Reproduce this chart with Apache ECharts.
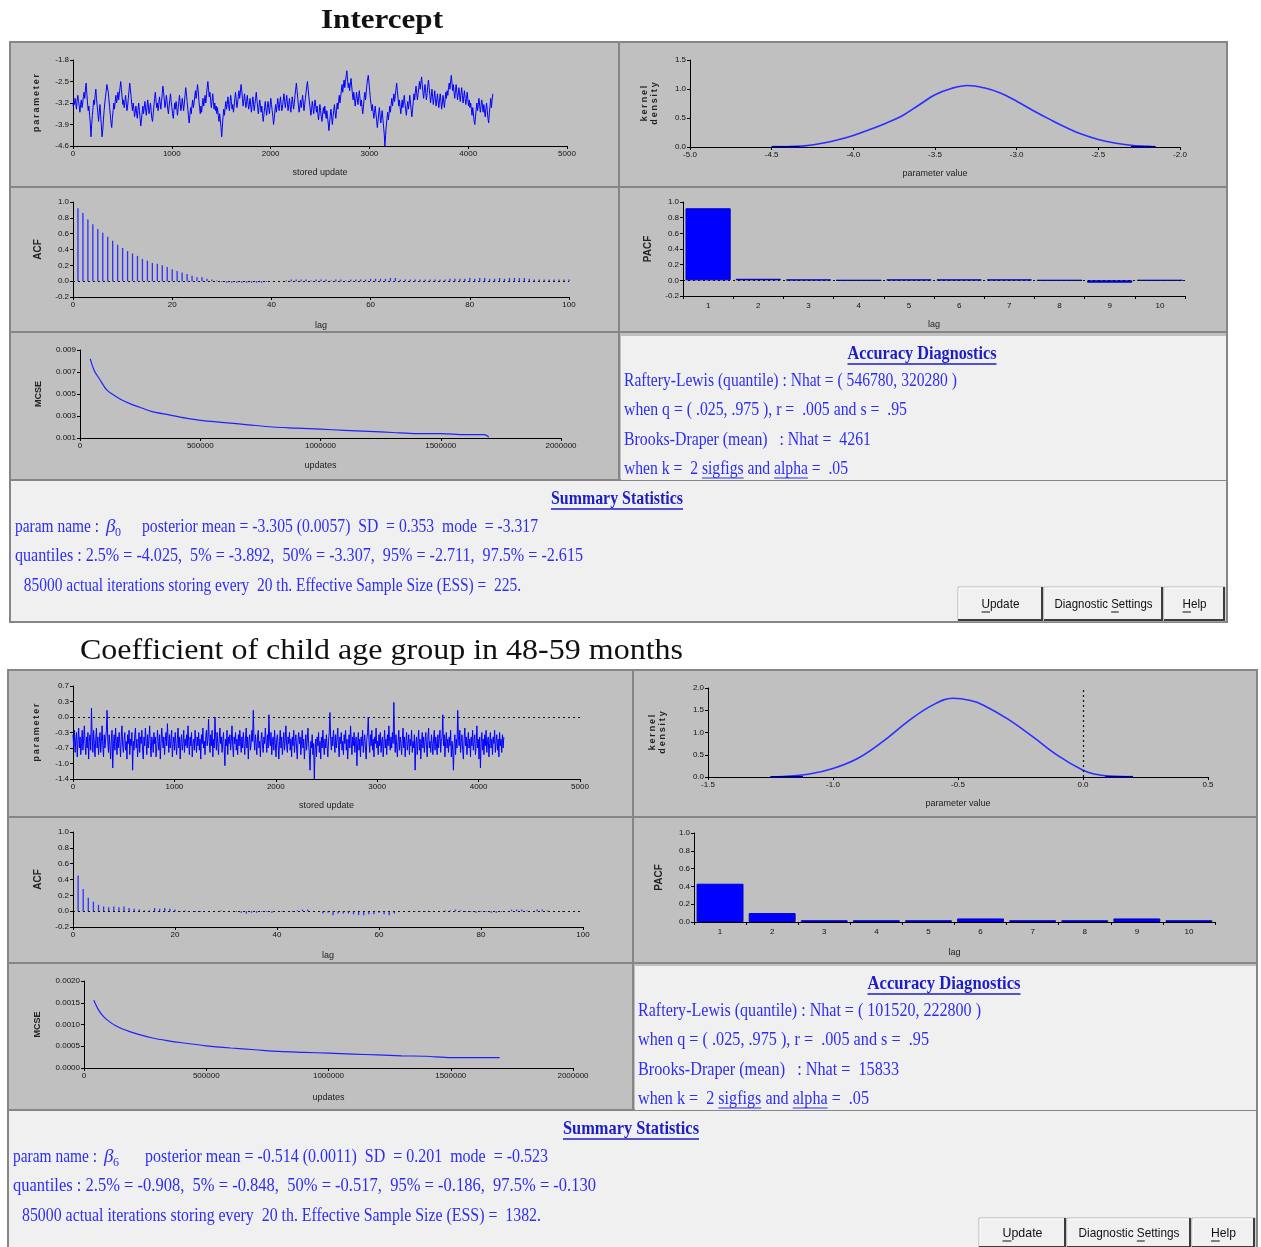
<!DOCTYPE html>
<html>
<head>
<meta charset="utf-8">
<script src="https://cdn.jsdelivr.net/npm/echarts@6/dist/echarts.min.js"></script>
<style>
  html, body { margin: 0; padding: 0; background: #ffffff; }
  #chart { width: 1261px; height: 1247px; }
</style>
</head>
<body>
<div id="chart"></div>
<script>
// ---------------- MCMC diagnostics data ----------------
// stored updates between consecutive plotted chain samples
const TRACE_STEP = 7;

// Intercept (beta_0) chain
const interceptTrace = [
  -3.30,-3.15,-3.25,-3.05,-3.20,-3.40,-3.10,-2.95,-3.15,-3.30,-3.50,-3.25,-3.10,-3.35,-3.20,-3.00,
  -2.85,-3.05,-2.75,-2.55,-2.90,-3.20,-3.45,-3.30,-3.60,-3.85,-4.30,-3.90,-3.60,-3.35,-3.10,-3.25,
  -2.95,-2.75,-3.05,-3.30,-3.55,-3.80,-3.50,-3.25,-3.60,-3.95,-4.30,-4.10,-3.75,-3.45,-3.20,-3.00,
  -2.80,-2.60,-2.55,-2.85,-3.10,-3.35,-3.60,-3.85,-4.00,-3.70,-3.45,-3.20,-3.40,-3.15,-2.95,-3.20,
  -3.05,-2.85,-3.10,-2.90,-2.70,-2.50,-2.75,-3.00,-3.25,-3.10,-3.35,-3.15,-2.95,-3.20,-3.45,-3.30,
  -3.05,-2.80,-2.55,-2.75,-3.00,-3.25,-3.45,-3.20,-3.40,-3.65,-3.50,-3.30,-3.55,-3.70,-3.40,-3.20,
  -3.45,-3.70,-3.95,-3.75,-3.50,-3.30,-3.55,-3.35,-3.15,-3.40,-3.60,-3.35,-3.10,-3.30,-3.55,-3.40,
  -3.20,-3.45,-3.70,-3.80,-3.55,-3.30,-3.05,-2.85,-3.10,-3.35,-3.20,-3.45,-3.25,-3.00,-3.20,-3.40,
  -3.15,-2.90,-2.65,-2.85,-3.10,-3.35,-3.20,-2.95,-3.15,-3.40,-3.55,-3.30,-3.10,-2.90,-3.15,-3.35,
  -3.55,-3.70,-3.45,-3.20,-3.40,-3.15,-3.35,-3.60,-3.40,-3.15,-2.95,-3.20,-3.45,-3.30,-3.05,-3.25,
  -3.45,-3.20,-2.95,-2.70,-2.90,-3.15,-3.40,-3.65,-3.85,-3.60,-3.35,-3.55,-3.30,-3.10,-3.35,-3.20,
  -3.00,-2.80,-3.05,-2.85,-2.60,-2.80,-3.10,-3.35,-3.55,-3.30,-3.50,-3.25,-3.05,-3.30,-3.15,-2.95,
  -3.20,-2.95,-2.70,-2.50,-2.75,-3.00,-2.85,-3.10,-3.35,-3.15,-2.90,-3.15,-3.40,-3.20,-3.45,-3.30,
  -3.55,-3.35,-3.60,-3.80,-3.55,-3.75,-4.00,-4.30,-3.95,-3.65,-3.40,-3.60,-3.35,-3.15,-3.40,-3.25,
  -3.00,-3.25,-3.45,-3.20,-2.95,-3.15,-3.40,-3.25,-3.50,-3.30,-3.05,-2.85,-3.10,-3.35,-3.20,-3.00,
  -2.80,-3.05,-2.85,-2.60,-2.80,-3.05,-3.30,-3.10,-2.90,-3.15,-3.35,-3.15,-2.95,-3.20,-3.40,-3.25,
  -3.05,-3.30,-3.50,-3.25,-3.00,-3.20,-3.45,-3.25,-3.05,-2.85,-3.10,-3.35,-3.55,-3.30,-3.10,-3.30,
  -3.50,-3.30,-3.55,-3.80,-3.60,-3.35,-3.15,-3.40,-3.60,-3.35,-3.15,-3.35,-3.55,-3.30,-3.05,-3.25,
  -3.45,-3.65,-3.90,-3.70,-3.45,-3.25,-3.50,-3.30,-3.05,-3.25,-3.45,-3.20,-3.00,-3.25,-3.45,-3.30,
  -3.10,-2.90,-3.15,-3.35,-3.15,-2.95,-3.20,-3.45,-3.25,-3.05,-3.30,-3.50,-3.25,-3.00,-3.20,-3.40,
  -3.20,-2.95,-2.75,-2.55,-2.80,-3.05,-3.30,-3.50,-3.30,-3.10,-3.35,-3.15,-2.95,-3.20,-3.45,-3.25,
  -3.05,-2.85,-2.65,-2.50,-2.75,-3.00,-3.20,-3.40,-3.60,-3.40,-3.15,-3.35,-3.55,-3.30,-3.10,-3.30,
  -3.50,-3.30,-3.55,-3.75,-3.50,-3.25,-3.45,-3.65,-3.80,-3.55,-3.35,-3.55,-3.30,-3.50,-3.70,-3.45,
  -3.65,-3.85,-4.10,-3.85,-3.60,-3.40,-3.65,-3.90,-3.65,-3.45,-3.25,-3.50,-3.70,-3.45,-3.20,-3.40,
  -3.15,-2.95,-3.20,-3.00,-2.80,-2.60,-2.85,-2.65,-2.45,-2.70,-2.50,-2.30,-2.15,-2.45,-2.70,-2.55,
  -2.80,-2.60,-2.40,-2.65,-2.90,-3.10,-2.85,-3.05,-3.30,-3.10,-2.85,-3.05,-3.25,-3.00,-2.80,-3.05,
  -3.30,-3.10,-3.35,-3.55,-3.30,-3.05,-2.85,-3.10,-2.85,-2.60,-2.40,-2.30,-2.55,-2.80,-3.05,-3.25,
  -3.45,-3.25,-3.50,-3.70,-3.50,-3.30,-3.55,-3.75,-4.00,-3.80,-3.55,-3.35,-3.60,-3.85,-3.65,-3.45,
  -3.70,-3.95,-4.20,-4.60,-4.25,-3.95,-3.70,-3.50,-3.75,-3.55,-3.30,-3.50,-3.25,-3.05,-3.30,-3.10,
  -2.90,-3.15,-2.95,-2.75,-2.55,-2.80,-3.05,-3.30,-3.10,-3.35,-3.55,-3.30,-3.10,-3.35,-3.15,-2.95,
  -3.20,-3.40,-3.60,-3.35,-3.15,-3.40,-3.20,-2.95,-3.20,-3.45,-3.65,-3.40,-3.15,-2.90,-3.10,-2.85,
  -2.65,-2.90,-3.10,-2.90,-2.70,-2.50,-2.75,-2.55,-2.35,-2.60,-2.85,-3.05,-2.80,-2.60,-2.85,-3.10,
  -2.90,-2.65,-2.45,-2.70,-2.95,-3.20,-3.00,-2.75,-3.00,-3.25,-3.05,-2.80,-3.05,-3.30,-3.10,-2.90,
  -3.15,-3.35,-3.10,-2.90,-3.15,-3.40,-3.20,-2.95,-3.15,-3.35,-3.10,-2.85,-3.05,-2.80,-2.95,-2.70,
  -2.55,-2.75,-2.50,-2.30,-2.55,-2.80,-2.60,-2.85,-3.05,-2.80,-2.60,-2.85,-3.10,-2.90,-2.70,-2.95,
  -3.15,-2.90,-2.70,-2.95,-3.20,-3.00,-2.80,-3.05,-3.25,-3.05,-2.85,-3.10,-3.30,-3.10,-3.35,-3.20,
  -3.40,-3.60,-3.35,-3.55,-3.80,-3.90,-3.65,-3.40,-3.20,-3.45,-3.25,-3.05,-3.30,-3.50,-3.30,-3.10,
  -3.30,-3.50,-3.25,-3.45,-3.65,-3.40,-3.20,-3.45,-3.70,-3.85,-3.55,-3.30,-3.05,-3.35,-3.10,-2.90
];

// Child age group 48-59 months (beta_6) chain
const ageTrace = [
  -0.40,-0.65,-0.30,-0.80,-0.50,-0.35,-0.90,-0.55,-0.25,-0.70,-0.45,-0.85,-0.60,-0.30,-0.75,-0.50,
  -0.20,-0.60,-0.85,-0.45,-0.70,-0.35,-0.95,-0.55,-0.40,-0.75, 0.20,-0.45,-0.80,-0.30,-0.60,-0.90,
  -0.50,-0.25,-0.70,-0.45,-0.85,-0.60,-0.35,-0.80,-0.55,-0.20,-0.65,-0.90,-0.40,-0.70,-0.50,-0.30,
   0.15,-0.55,-0.80,-0.40,-0.65,-0.95,-0.50,-0.30,-1.15,-0.60,-0.40,-0.75,-0.25,-0.55,-0.85,-0.45,
  -0.70,-0.35,-0.60,-0.90,-0.45,-0.20,-0.65,-0.80,-0.50,-0.35,-0.75,-0.55,-0.95,-0.40,-0.60,-0.30,
  -0.85,-0.50,-0.65,-0.35,-1.20,-0.55,-0.75,-0.40,-0.25,-0.70,-0.50,-0.90,-0.60,-0.35,-0.80,-0.45,
  -0.60,-0.30,-0.75,-0.95,-0.45,-0.65,-0.25,-0.55,-0.85,-0.40,-0.70,-0.50,-0.20,-0.65,-0.90,-0.45,
  -0.55,-0.80,-0.35,-0.60,-0.45,-0.90,-0.70,-0.30,-0.55,-0.75,-0.40,-0.95,-0.60,-0.25,-0.50,-0.70,
  -0.45,-0.85,-0.55,-0.35,-0.65,-0.15,-0.50,-0.80,-0.40,-0.70,-0.55,-0.30,-0.90,-0.60,-0.45,-0.75,
  -0.35,-0.60,-0.85,-0.50,-0.25,-0.70,-0.45,-0.95,-0.55,-0.40,-0.75,-0.60,-0.30,-0.80,-0.50,-0.65,
  -0.40,-0.70,-0.20,-0.55,-0.85,-0.45,-0.65,-0.35,-0.90,-0.60,-0.50,-0.75,-0.30,-0.55,-0.80,-0.45,
  -0.65,-0.35,-0.75,-0.50,-0.95,-0.40,-0.60,-0.25,-0.70,-0.55,-0.85,-0.45,-0.30,-0.65,-0.50,-0.05,
  -0.55,-0.80,-0.40,-0.65,-0.30,-0.90,-0.50,-0.70, 0.00,-0.45,-0.75,-0.35,-0.60,-0.85,-0.50,-0.25,
  -0.60,-0.45,-0.80,-0.55,-0.35,-0.70,-1.10,-0.50,-0.65,-0.30,-0.85,-0.45,-0.60,-0.40,-0.75,-0.55,
  -0.20,-0.65,-0.90,-0.45,-0.60,-0.35,-0.75,-0.50,-0.85,-0.40,-0.65,-0.30,-0.55,-0.80,-0.45,-0.70,
  -0.35,-0.60,-0.85,-0.50,-0.25,-0.70,-0.45,-0.95,-0.55,-0.40,-0.75,-0.60,-0.30,-0.55, 0.15,-0.50,
  -0.75,-0.40,-0.60,-0.85,-0.45,-0.30,-0.70,-0.55,-0.90,-0.50,-0.35,-0.65,-0.80,-0.45,-0.60,-0.25,
  -0.55,-0.80,-0.40,-0.70, 0.05,-0.50,-0.65,-0.35,-0.85,-0.55,-0.45,-0.75,-0.30,-0.60,-0.90,-0.50,
  -0.40,-0.65,-0.95,-0.55,-0.30,-0.70,-0.45,-0.85,-0.60,-0.35,-0.75,-0.50,-0.20,-0.65,-0.80,-0.45,
  -0.60,-0.35,-0.75,-0.50,-0.90,-0.45,-0.65,-0.30,-0.80,-0.55,-0.40,-0.70,-0.95,-0.50,-0.35,-0.60,
  -0.45,-0.85,-0.55,-0.30,-0.70,-0.50,-0.95,-0.65,-0.40,-0.75,-0.55,-0.25,-0.60,-0.85,-1.20,-0.55,
  -0.70,-0.40,-0.85,-0.60,-1.40,-0.75,-0.50,-0.90,-0.45,-0.65,-0.35,-0.80,-0.55,-0.95,-0.45,-0.70,
  -0.30,-0.60,-0.85,-0.50,-0.70,-0.40,-0.65,-0.90,-0.55,-0.35, 0.10,-0.50,-0.75,-0.45,-0.65,-0.30,
  -0.55,-0.80,-0.40,-0.70,-0.50,-0.25,-0.65,-0.90,-0.45,-0.60,-0.35,-0.75,-0.55,-0.85,-0.40,-0.60,
  -0.30,-0.75,-0.50,-0.95,-0.60,-0.40,-0.70,-0.20,-0.55,-0.85,-0.45,-0.65,-0.35,-0.80,-0.55,-0.45,
  -1.10,-0.60,-0.35,-0.75,-0.50,-0.90,-0.45,-0.65,-0.30,-0.80,-0.55,-0.40,-0.70,-0.95,-0.50,-0.35,
   0.00,-0.55,-0.80,-0.40,-0.65,-0.30,-0.75,-0.50,-0.90,-0.45,-0.60,-0.25,-0.70,-0.55,-0.85,-0.40,
  -0.65,-0.35,-0.80,-0.55,-0.45,-0.90,-0.60,-0.30,-0.70,-0.50,-0.85,-0.40,-0.65,-0.20,-0.55,-0.75,
  -0.45,-0.70,-0.35,-0.60, 0.33,-0.50,-0.80,-0.40,-0.65,-0.90,-0.55,-0.30,-0.75,-0.45,-0.60,-0.85,
  -0.50,-0.25,-0.70,-0.45,-0.90,-0.55,-0.35,-0.75,-0.60,-0.40,-0.85,-0.50,-0.65,-0.30,-0.80,-0.55,
  -0.70,-0.40,-1.20,-0.60,-0.45,-0.85,-0.55,-0.30,-0.75,-0.50,-0.95,-0.60,-0.35,-0.70,-0.45,-0.80,
  -0.55,-0.35,-0.65,-0.90,-0.45,-0.25,-0.70,-0.55,-0.80,-0.40,-0.60,-0.85,-0.50,-0.30,-0.75,-0.45,
  -0.60,-0.85,-0.40,-0.70,-0.50,-0.30,-0.80,-0.55,-0.45, 0.05,-0.65,-0.40,-0.90,-0.55,-0.35,-0.70,
  -0.50,-0.80,-0.45,-0.65,-0.30,-0.90,-0.55,-0.75,-1.20,-0.60,-0.40,-0.85,-0.50,-0.70, 0.15,-0.45,
  -0.65,-0.30,-0.80,-0.55,-0.40,-0.75,-0.95,-0.50,-0.25,-0.65,-0.45,-0.85,-0.60,-0.35,-0.70,-0.50,
  -0.90,-0.45,-0.65,-0.30,-0.75,-0.55,-0.40,-0.85,-0.60,-0.20,-0.70,-0.50,-0.95,-0.45,-1.15,-0.60,
  -0.35,-0.75,-0.50,-0.85,-0.40,-0.65,-0.30,-0.80,-0.55,-0.45,-0.90,-0.60,-0.35,-0.70,-0.50,-0.85,
  -0.45,-0.60,-0.30,-0.80,-0.55,-0.40,-0.75,-0.50,-0.90,-0.35,-0.65,-0.50,-0.80,-0.40,-0.70,-0.45
];

// kernel density estimates
const interceptKdeX = [-4.5,-4.4,-4.3,-4.2,-4.1,-4.0,-3.9,-3.8,-3.7,-3.6,-3.5,-3.4,-3.3,-3.2,-3.1,-3.0,-2.9,-2.8,-2.7,-2.6,-2.5,-2.4,-2.3,-2.2,-2.15];
const interceptKdeY = [0.0,0.005,0.02,0.06,0.12,0.20,0.30,0.41,0.54,0.72,0.90,1.01,1.06,1.02,0.93,0.79,0.63,0.48,0.34,0.22,0.13,0.07,0.03,0.01,0.0];
const interceptKdeTails = [[-4.5, -4.33], [-2.3, -2.15]];

const ageKdeX = [-1.25,-1.2,-1.1,-1.0,-0.9,-0.8,-0.7,-0.6,-0.52,-0.45,-0.4,-0.3,-0.2,-0.1,0.0,0.05,0.1,0.2];
const ageKdeY = [0.0,0.01,0.06,0.19,0.42,0.80,1.25,1.62,1.77,1.72,1.62,1.30,0.90,0.48,0.15,0.06,0.02,0.0];
const ageKdeTails = [[-1.25, -1.12], [0.09, 0.2]];

// autocorrelation, lags 1..100
const acfLags = Array.from({ length: 100 }, (_, i) => i + 1);
const interceptAcf = [
  0.92,0.86,0.78,0.72,0.66,0.61,0.56,0.51,0.46,0.42,
  0.38,0.35,0.32,0.28,0.26,0.23,0.22,0.20,0.18,0.15,
  0.13,0.11,0.09,0.07,0.05,0.05,0.03,0.02,0.01,-0.01,
  -0.02,-0.02,-0.02,-0.02,-0.02,-0.02,-0.02,-0.02,-0.01,0.00,
  0.00,0.00,0.01,0.02,0.02,0.02,0.02,0.01,0.02,0.02,
  0.02,0.01,0.02,0.02,0.01,0.02,0.02,0.02,0.02,0.03,
  0.03,0.03,0.03,0.04,0.04,0.02,0.02,0.02,0.02,0.02,
  0.02,0.02,0.02,0.02,0.02,0.03,0.03,0.03,0.03,0.04,
  0.03,0.04,0.04,0.03,0.03,0.04,0.03,0.04,0.04,0.04,
  0.04,0.03,0.02,0.02,0.02,0.02,0.02,0.02,0.02,0.02
];
const ageAcf = [
  0.45,0.28,0.17,0.12,0.08,0.06,0.05,0.06,0.05,0.06,
  0.04,0.03,0.02,0.01,0.01,0.04,0.03,0.04,0.03,0.02,
  -0.01,0.01,0.00,-0.01,-0.01,0.00,0.00,0.00,0.01,0.00,
  0.00,-0.01,-0.02,-0.03,-0.02,-0.02,-0.01,-0.01,-0.02,0.00,
  -0.01,0.00,-0.01,0.01,0.02,0.02,0.00,0.00,-0.03,-0.02,
  -0.05,-0.03,-0.03,-0.03,-0.04,-0.05,-0.05,-0.04,-0.04,-0.02,
  -0.04,-0.05,-0.03,-0.01,0.00,-0.01,-0.01,-0.01,-0.01,-0.01,
  0.00,0.00,0.01,0.01,0.02,0.01,-0.01,-0.01,-0.02,-0.01,
  -0.01,-0.02,-0.02,-0.01,0.00,0.02,0.02,0.02,0.01,0.00,
  0.02,0.02,0.01,0.00,0.00,-0.01,0.00,0.00,0.00,0.00
];

// partial autocorrelation, lags 1..10
const pacfLags = ['1','2','3','4','5','6','7','8','9','10'];
const interceptPacf = [0.92, 0.02, 0.01, 0.0, 0.01, 0.01, 0.01, 0.0, -0.03, 0.0];
const agePacf = [0.43, 0.10, 0.02, 0.02, 0.02, 0.04, 0.02, 0.02, 0.04, 0.02];

// Monte Carlo standard error against number of updates
const interceptMcseX = [42500,60000,83000,110000,140000,170000,210000,260000,300000,370000,440000,500000,600000,700000,800000,900000,1000000,1100000,1200000,1300000,1400000,1500000,1600000,1680000,1700000];
const interceptMcseY = [0.0082,0.0071,0.0063,0.0054,0.0049,0.0045,0.0041,0.0037,0.0034,0.0031,0.0028,0.0026,0.0024,0.0022,0.0020,0.0019,0.0018,0.0017,0.0016,0.0015,0.0014,0.0014,0.0013,0.0013,0.0011];
const ageMcseX = [40000,60000,80000,105000,130000,160000,190000,230000,280000,340000,400000,500000,600000,700000,800000,900000,1000000,1100000,1200000,1300000,1400000,1500000,1600000,1700000];
const ageMcseY = [0.00156,0.00133,0.00118,0.00106,0.00097,0.00089,0.00083,0.00076,0.00069,0.00063,0.00058,0.00051,0.00046,0.00042,0.00038,0.00036,0.00034,0.00032,0.00030,0.00028,0.00027,0.00024,0.00024,0.00024];

// axis ticks
const traceXTicks = [0, 1000, 2000, 3000, 4000, 5000];
const interceptTraceYTicks = [-4.6, -3.9, -3.2, -2.5, -1.8];
const ageTraceYTicks = [-1.4, -1.05, -0.7, -0.35, 0, 0.35, 0.7];
const ageTraceYLabels = ['-1.4', '-1.0', '-0.7', '-0.3', '0.0', '0.3', '0.7'];
const interceptKdeXTicks = [-5.0, -4.5, -4.0, -3.5, -3.0, -2.5, -2.0];
const interceptKdeYTicks = [0, 0.5, 1.0, 1.5];
const ageKdeXTicks = [-1.5, -1.0, -0.5, 0.0, 0.5];
const ageKdeYTicks = [0, 0.5, 1.0, 1.5, 2.0];
const acfXTicks = [0, 20, 40, 60, 80, 100];
const corrYTicks = [-0.2, 0, 0.2, 0.4, 0.6, 0.8, 1.0];
const pacfPosYTicks = [0, 0.2, 0.4, 0.6, 0.8, 1.0];
const mcseXTicks = [0, 500000, 1000000, 1500000, 2000000];
const interceptMcseYTicks = [0.001, 0.003, 0.005, 0.007, 0.009];
const ageMcseYTicks = [0, 0.0005, 0.001, 0.0015, 0.002];

// summary text
const interceptSummary = {
  title: 'Intercept',
  rl: 'Raftery-Lewis (quantile) : Nhat = ( 546780, 320280 )',
  bd: 'Brooks-Draper (mean)   : Nhat =  4261',
  sub: '0',
  post: 'posterior mean = -3.305 (0.0057)  SD  = 0.353  mode  = -3.317',
  quant: 'quantiles : 2.5% = -4.025,  5% = -3.892,  50% = -3.307,  95% = -2.711,  97.5% = -2.615',
  ess: ' 85000 actual iterations storing every  20 th. Effective Sample Size (ESS) =  225.'
};
const ageSummary = {
  title: 'Coefficient of child age group in 48-59 months',
  rl: 'Raftery-Lewis (quantile) : Nhat = ( 101520, 222800 )',
  bd: 'Brooks-Draper (mean)   : Nhat =  15833',
  sub: '6',
  post: 'posterior mean = -0.514 (0.0011)  SD  = 0.201  mode  = -0.523',
  quant: 'quantiles : 2.5% = -0.908,  5% = -0.848,  50% = -0.517,  95% = -0.186,  97.5% = -0.130',
  ess: ' 85000 actual iterations storing every  20 th. Effective Sample Size (ESS) =  1382.'
};

// ---------------- helpers ----------------
const zip = (xs, ys) => xs.map((x, i) => [x, ys[i]]);
const fix = d => v => Number(v).toFixed(d);
const fromLabels = (ticks, labels) => v => {
  const i = ticks.findIndex(t => Math.abs(t - v) < 1e-9);
  return i < 0 ? '' : labels[i];
};

const AX_FONT = 'Liberation Sans';
const mctx = document.createElement('canvas').getContext('2d');
function measure(str, font) { mctx.font = font; return mctx.measureText(str).width; }

function valueAxis(gi, min, max, ticks, fmt, extra) {
  return Object.assign({
    type: 'value', gridIndex: gi, min: min, max: max,
    axisLine: { show: true, onZero: false, lineStyle: { color: '#000', width: 1 } },
    axisTick: { show: true, length: 3, customValues: ticks, lineStyle: { color: '#000' } },
    axisLabel: { customValues: ticks, formatter: fmt, fontSize: 8, color: '#111', margin: 4, fontFamily: AX_FONT },
    splitLine: { show: false }
  }, extra || {});
}
function xName(name, gap) {
  return { name: name, nameLocation: 'middle', nameGap: gap, nameTextStyle: { fontSize: 9, color: '#222', fontFamily: AX_FONT } };
}
function yName(name, gap, size) {
  return { name: name, nameLocation: 'middle', nameRotate: 90, nameGap: gap,
    nameTextStyle: { fontSize: size || 9, fontWeight: 'bold', color: '#222', fontFamily: AX_FONT, lineHeight: 10 } };
}
function categoryAxis(gi, extra) {
  return Object.assign({
    type: 'category', gridIndex: gi, data: pacfLags, boundaryGap: true,
    axisLine: { show: true, onZero: false, lineStyle: { color: '#000' } },
    axisTick: { show: true, length: 3, alignWithLabel: false, lineStyle: { color: '#000' } },
    axisLabel: { fontSize: 8, color: '#111', margin: 6, fontFamily: AX_FONT }
  }, extra || {});
}

const dotted = (axisKey) => ({
  silent: true, symbol: 'none', label: { show: false },
  lineStyle: { color: '#111', type: [2, 3], width: 1.2 },
  data: [{ [axisKey]: 0 }]
});

const spaced = s => s.split('').join('\u2009');

// ---------------- plot areas ----------------
const grids = [
  { left: 73,  top: 60,  width: 494, height: 86 },  // intercept trace
  { left: 690, top: 60,  width: 490, height: 87 },  // intercept kernel density
  { left: 73,  top: 202, width: 496, height: 95 },  // intercept ACF
  { left: 683, top: 202, width: 502, height: 94 },  // intercept PACF
  { left: 80,  top: 350, width: 481, height: 88 },  // intercept MCSE
  { left: 73,  top: 686, width: 507, height: 93 },  // age trace
  { left: 708, top: 688, width: 500, height: 89 },  // age kernel density
  { left: 73,  top: 832, width: 510, height: 95 },  // age ACF
  { left: 694, top: 833, width: 521, height: 89 },  // age PACF
  { left: 84,  top: 981, width: 489, height: 87 }   // age MCSE
].map(g => Object.assign({ containLabel: false }, g));

const xAxes = [
  valueAxis(0, 0, 5000, traceXTicks, v => String(v), xName('stored update', 22)),
  valueAxis(1, -5.0, -2.0, interceptKdeXTicks, fix(1), xName('parameter value', 22)),
  valueAxis(2, 0, 100, acfXTicks, v => String(v), xName('lag', 24)),
  categoryAxis(3, xName('lag', 24)),
  valueAxis(4, 0, 2000000, mcseXTicks, v => String(v), xName('updates', 23)),
  valueAxis(5, 0, 5000, traceXTicks, v => String(v), xName('stored update', 22)),
  valueAxis(6, -1.5, 0.5, ageKdeXTicks, fix(1), xName('parameter value', 22)),
  valueAxis(7, 0, 100, acfXTicks, v => String(v), xName('lag', 24)),
  categoryAxis(8, xName('lag', 26)),
  valueAxis(9, 0, 2000000, mcseXTicks, v => String(v), xName('updates', 25))
];

const yAxes = [
  valueAxis(0, -4.6, -1.8, interceptTraceYTicks, fix(1), yName(spaced('parameter'), 31)),
  valueAxis(1, 0, 1.5, interceptKdeYTicks, fix(1), yName(spaced('kernel') + '\n' + spaced('density'), 30)),
  valueAxis(2, -0.2, 1.0, corrYTicks, fix(1), yName('ACF', 30, 10)),
  valueAxis(3, -0.2, 1.0, corrYTicks, fix(1), yName('PACF', 30, 10)),
  valueAxis(4, 0.001, 0.009, interceptMcseYTicks, fix(3), yName('MCSE', 36)),
  valueAxis(5, -1.4, 0.7, ageTraceYTicks, fromLabels(ageTraceYTicks, ageTraceYLabels), yName(spaced('parameter'), 31)),
  valueAxis(6, 0, 2.0, ageKdeYTicks, fix(1), yName(spaced('kernel') + '\n' + spaced('density'), 40)),
  valueAxis(7, -0.2, 1.0, corrYTicks, fix(1), yName('ACF', 30, 10)),
  valueAxis(8, 0, 1.0, pacfPosYTicks, fix(1), yName('PACF', 30, 10)),
  valueAxis(9, 0, 0.002, ageMcseYTicks, fix(4), yName('MCSE', 41))
];

const BLUE = '#0000ff';
const traceSeries = (idx, values, zeroLine) => ({
  type: 'line', xAxisIndex: idx, yAxisIndex: idx,
  data: values.map((v, i) => [i * TRACE_STEP, v]),
  showSymbol: false, symbol: 'none', lineStyle: { color: BLUE, width: 1 },
  markLine: zeroLine ? dotted('yAxis') : undefined
});
const kdeSeries = (idx, xs, ys, vLine) => ({
  type: 'line', xAxisIndex: idx, yAxisIndex: idx, data: zip(xs, ys), smooth: 0.4,
  showSymbol: false, symbol: 'none', lineStyle: { color: '#2d2dff', width: 1.6 },
  markLine: vLine ? dotted('xAxis') : undefined
});
const tailSeries = (idx, tails) => tails.map(t => ({
  type: 'line', xAxisIndex: idx, yAxisIndex: idx, data: [[t[0], 0], [t[1], 0]],
  showSymbol: false, symbol: 'none', lineStyle: { color: '#000080', width: 2.2 }, z: 3
}));
const acfSeries = (idx, values) => ({
  type: 'bar', xAxisIndex: idx, yAxisIndex: idx, data: zip(acfLags, values),
  barWidth: 1.3, itemStyle: { color: '#2f2fff' }, markLine: dotted('yAxis')
});
const pacfSeries = (idx, values, zeroLine) => ({
  type: 'bar', xAxisIndex: idx, yAxisIndex: idx, data: values,
  barWidth: '90%', itemStyle: { color: BLUE, borderColor: '#0000c8', borderWidth: 1 },
  markLine: zeroLine ? dotted('yAxis') : undefined
});
const mcseSeries = (idx, xs, ys) => ({
  type: 'line', xAxisIndex: idx, yAxisIndex: idx, data: zip(xs, ys), smooth: 0.3,
  showSymbol: false, symbol: 'none', lineStyle: { color: '#2020ff', width: 1.2 }
});

const series = [
  traceSeries(0, interceptTrace, false),
  kdeSeries(1, interceptKdeX, interceptKdeY, false),
  ...tailSeries(1, interceptKdeTails),
  acfSeries(2, interceptAcf),
  pacfSeries(3, interceptPacf, true),
  mcseSeries(4, interceptMcseX, interceptMcseY),
  traceSeries(5, ageTrace, true),
  kdeSeries(6, ageKdeX, ageKdeY, true),
  ...tailSeries(6, ageKdeTails),
  acfSeries(7, ageAcf),
  pacfSeries(8, agePacf, false),
  mcseSeries(9, ageMcseX, ageMcseY)
];

// ---------------- panels, text and buttons ----------------
const els = [];
const TXT_BLUE = '#2e2ef2';
const TITLE_BLUE = '#1d1dc8';
const SERIF = '"Liberation Serif"';

function cell(x, y, w, h, fill) {
  els.push({ type: 'rect', z: -10, silent: true, shape: { x: x, y: y, width: w, height: h },
    style: { fill: fill, stroke: '#868686', lineWidth: 2 } });
}
function fitText(str, x, y, w, font, fill, center) {
  const sx = w / measure(str, font);
  const left = center ? x - w / 2 : x;
  els.push({ type: 'text', z: 10, silent: true, x: left, y: y, scaleX: sx,
    style: { text: str, font: font, fill: fill, textAlign: 'left', textVerticalAlign: 'middle' } });
  return { left: left, sx: sx };
}
function uline(x1, x2, y, color, width) {
  els.push({ type: 'line', z: 10, silent: true, shape: { x1: x1, y1: y, x2: x2, y2: y },
    style: { stroke: color, lineWidth: width || 1 } });
}
function underlinedTitle(str, cx, y, w) {
  const font = 'bold 19px ' + SERIF;
  fitText(str, cx, y, w, font, TITLE_BLUE, true);
  uline(cx - w / 2, cx + w / 2, y + 10, TITLE_BLUE, 1.3);
}
function accuracy(x, y, s, widths) {
  const font = '19px ' + SERIF;
  fitText(s.rl, x, y, widths[0], font, TXT_BLUE);
  fitText('when q = ( .025, .975 ), r =  .005 and s =  .95', x, y + 29, widths[1], font, TXT_BLUE);
  fitText(s.bd, x, y + 59, widths[2], font, TXT_BLUE);
  const last = 'when k =  2 sigfigs and alpha =  .05';
  const r = fitText(last, x, y + 88, widths[3], font, TXT_BLUE);
  const p1 = measure('when k =  2 ', font) * r.sx, w1 = measure('sigfigs', font) * r.sx;
  const p2 = measure('when k =  2 sigfigs and ', font) * r.sx, w2 = measure('alpha', font) * r.sx;
  uline(x + p1, x + p1 + w1, y + 97, TXT_BLUE, 1);
  uline(x + p2, x + p2 + w2, y + 97, TXT_BLUE, 1);
}
function summary(x, y, s, widths) {
  const font = '19px ' + SERIF;
  fitText('param name :', x, y, 84, font, TXT_BLUE);
  els.push({ type: 'text', z: 10, silent: true, x: x + 91, y: y,
    style: { text: '\u03B2', font: 'italic 19px ' + SERIF, fill: TXT_BLUE, textAlign: 'left', textVerticalAlign: 'middle' } });
  els.push({ type: 'text', z: 10, silent: true, x: x + 100, y: y + 6,
    style: { text: s.sub, font: '12px ' + SERIF, fill: TXT_BLUE, textAlign: 'left', textVerticalAlign: 'middle' } });
  fitText(s.post, x + widths[0], y, widths[1], font, TXT_BLUE);
  fitText(s.quant, x, y + 29, widths[2], font, TXT_BLUE);
  fitText(s.ess, x + 5, y + 59, widths[3], font, TXT_BLUE);
}
function button(x, y, w, h, label, ul, lw) {
  els.push({ type: 'rect', z: 5, silent: true, shape: { x: x, y: y, width: w, height: h },
    style: { fill: '#f0f0f0', stroke: '#b4b4b4', lineWidth: 1 } });
  els.push({ type: 'polyline', z: 6, silent: true,
    shape: { points: [[x + w - 1, y], [x + w - 1, y + h - 1], [x, y + h - 1]] },
    style: { stroke: '#3c3c3c', lineWidth: 2, fill: null } });
  els.push({ type: 'polyline', z: 6, silent: true,
    shape: { points: [[x + 1, y + h - 2], [x + 1, y + 1], [x + w - 2, y + 1]] },
    style: { stroke: '#ffffff', lineWidth: 1, fill: null } });
  const font = '13px "Liberation Sans"';
  const lx = x + (w - lw) / 2, ly = y + h / 2;
  const r = fitText(label, lx, ly, lw, font, '#111');
  const pre = measure(label.slice(0, ul), font) * r.sx;
  const cw = measure(label[ul], font) * r.sx;
  uline(lx + pre, lx + pre + cw, ly + 8, '#111', 1);
}

// block 1 : intercept
cell(10, 42, 609, 145, '#c0c0c0');
cell(619, 42, 608, 145, '#c0c0c0');
cell(10, 187, 609, 145, '#c0c0c0');
cell(619, 187, 608, 145, '#c0c0c0');
cell(10, 332, 609, 148, '#c0c0c0');
cell(619, 332, 608, 148, '#c0c0c0');
els.push({ type: 'rect', z: -9, silent: true, shape: { x: 621, y: 336, width: 605, height: 144 }, style: { fill: '#f0f0f0' } });
cell(10, 480, 1217, 142, '#f0f0f0');

// block 2 : child age group 48-59 months
cell(8, 670, 625, 147, '#c0c0c0');
cell(633, 670, 624, 147, '#c0c0c0');
cell(8, 817, 625, 146, '#c0c0c0');
cell(633, 817, 624, 146, '#c0c0c0');
cell(8, 963, 625, 147, '#c0c0c0');
cell(633, 963, 624, 147, '#c0c0c0');
els.push({ type: 'rect', z: -9, silent: true, shape: { x: 635, y: 966, width: 621, height: 144 }, style: { fill: '#f0f0f0' } });
cell(8, 1110, 1249, 140, '#f0f0f0');

// headings
fitText(interceptSummary.title, 382, 21, 122, 'bold 27px ' + SERIF, '#111', true);
fitText(ageSummary.title, 80, 651, 603, '29px ' + SERIF, '#111', false);

// accuracy diagnostics
underlinedTitle('Accuracy Diagnostics', 922, 354, 149);
accuracy(624, 381, interceptSummary, [333, 283, 247, 224]);
underlinedTitle('Accuracy Diagnostics', 944, 984, 153);
accuracy(638, 1011, ageSummary, [343, 291, 261, 231]);

// summary statistics
underlinedTitle('Summary Statistics', 617, 499, 132);
summary(15, 527, interceptSummary, [127, 396, 568, 501]);
underlinedTitle('Summary Statistics', 631, 1129, 136);
summary(13, 1157, ageSummary, [132, 403, 583, 523]);

// buttons
button(958, 587, 85, 34, 'Update', 0, 38);
button(1044, 587, 119, 34, 'Diagnostic Settings', 11, 98);
button(1164, 587, 61, 34, 'Help', 0, 24);
button(979, 1218, 87, 30, 'Update', 0, 40);
button(1067, 1218, 124, 30, 'Diagnostic Settings', 11, 101);
button(1192, 1218, 63, 30, 'Help', 0, 25);

const chart = echarts.init(document.getElementById('chart'), null, { renderer: 'canvas' });
chart.setOption({
  animation: false,
  backgroundColor: '#ffffff',
  grid: grids,
  xAxis: xAxes,
  yAxis: yAxes,
  series: series,
  graphic: { elements: els }
});
</script>
</body>
</html>
